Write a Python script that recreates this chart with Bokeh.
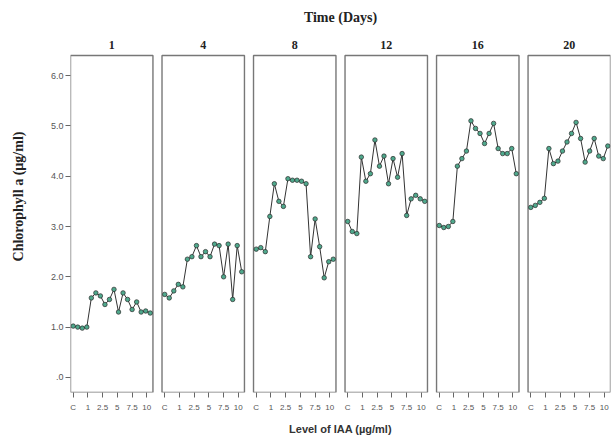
from bokeh.plotting import figure
from bokeh.models import FixedTicker, ColumnDataSource, Label
from bokeh.core.properties import value
from bokeh.embed import file_html
from bokeh.resources import INLINE

days = ["1", "4", "8", "12", "16", "20"]
levels = ["C", "1", "2.5", "5", "7.5", "10"]
y_ticks = [0, 1, 2, 3, 4, 5, 6]
y_tick_labels = [".0", "1.0", "2.0", "3.0", "4.0", "5.0", "6.0"]

day1 = [1.02, 1.00, 0.98, 1.00, 1.58, 1.68, 1.62, 1.45, 1.55, 1.75, 1.30, 1.68, 1.55, 1.35, 1.50, 1.30, 1.32, 1.28]
day4 = [1.65, 1.58, 1.72, 1.85, 1.80, 2.35, 2.40, 2.62, 2.40, 2.50, 2.40, 2.65, 2.62, 2.00, 2.65, 1.55, 2.62, 2.10]
day8 = [2.55, 2.58, 2.50, 3.20, 3.85, 3.50, 3.40, 3.95, 3.92, 3.92, 3.90, 3.85, 2.40, 3.15, 2.60, 1.98, 2.30, 2.35]
day12 = [3.10, 2.90, 2.86, 4.38, 3.90, 4.05, 4.72, 4.20, 4.40, 3.85, 4.35, 3.98, 4.45, 3.22, 3.55, 3.62, 3.55, 3.50]
day16 = [3.02, 2.98, 3.00, 3.10, 4.20, 4.35, 4.50, 5.10, 4.95, 4.85, 4.65, 4.85, 5.05, 4.55, 4.45, 4.45, 4.55, 4.05]
day20 = [3.38, 3.42, 3.48, 3.56, 4.55, 4.25, 4.30, 4.50, 4.68, 4.85, 5.07, 4.75, 4.28, 4.50, 4.75, 4.40, 4.35, 4.60]
series = [day1, day4, day8, day12, day16, day20]

n = len(day1)
period = 20.2
pad = 0.6
y_lo, y_top, y_hi = -0.3, 6.4, 7.493
x_lo, x_hi = -pad, 5 * period + n - 1 + pad

p = figure(width=612, height=437, output_backend="svg", toolbar_location=None,
           x_range=(x_lo, x_hi), y_range=(y_lo, y_hi),
           min_border_left=70, min_border_right=2, min_border_top=0, min_border_bottom=45)
p.outline_line_color = None
p.xgrid.grid_line_color = None
p.ygrid.grid_line_color = None
p.background_fill_color = "white"

# panels
lefts = [k * period - pad for k in range(len(days))]
rights = [k * period + n - 1 + pad for k in range(len(days))]
p.quad(left=lefts, right=rights, bottom=[y_lo] * len(days), top=[y_top] * len(days),
       fill_color=None, line_color="#777", line_width=1.4)

# panel titles
p.text(x=[k * period + (n - 1) / 2 for k in range(len(days))], y=[y_top + 0.2] * len(days),
       text=days, text_align="center", text_baseline="middle",
       text_font=value("Liberation Serif"), text_font_size="12px", text_font_style="bold",
       text_color="#222")

# overall title
p.add_layout(Label(x=(x_lo + x_hi) / 2, y=y_top + 0.755, text="Time (Days)",
                   text_align="center", text_baseline="middle",
                   text_font="Liberation Serif", text_font_size="14px", text_font_style="bold",
                   text_color="#222"))

for k, vals in enumerate(series):
    xs = [k * period + i for i in range(len(vals))]
    src = ColumnDataSource(dict(x=xs, y=vals))
    p.line("x", "y", source=src, line_color="#333", line_width=1.0)
    p.scatter("x", "y", source=src, size=4.5, fill_color="#4fa88c", line_color="#2a2a2a", line_width=0.7)

# x axis ticks
step = (n - 1) / (len(levels) - 1) * 0.955
xt = []
xlab = {}
for k in range(len(days)):
    for j, lv in enumerate(levels):
        pos = round(k * period + j * step, 3)
        xt.append(pos)
        xlab[pos] = lv
p.xaxis.ticker = FixedTicker(ticks=xt)
p.xaxis.major_label_overrides = xlab
p.xaxis.axis_line_color = None
p.xaxis.minor_tick_line_color = None
p.xaxis.major_tick_in = 0
p.xaxis.major_tick_out = 5
p.xaxis.major_tick_line_color = "#666"
p.xaxis.major_label_text_font = "Liberation Sans"
p.xaxis.major_label_text_font_size = "8px"
p.xaxis.major_label_text_color = "#555"
p.xaxis.major_label_standoff = 5
p.xaxis.axis_label = "Level of IAA (\u00b5g/ml)"
p.xaxis.axis_label_text_font = "Liberation Sans"
p.xaxis.axis_label_text_font_size = "11px"
p.xaxis.axis_label_text_font_style = "bold"
p.xaxis.axis_label_text_color = "#333"
p.xaxis.axis_label_standoff = 8

p.yaxis.ticker = FixedTicker(ticks=y_ticks)
p.yaxis.major_label_overrides = {t: l for t, l in zip(y_ticks, y_tick_labels)}
p.yaxis.axis_line_color = None
p.yaxis.minor_tick_line_color = None
p.yaxis.major_tick_in = 0
p.yaxis.major_tick_out = 5
p.yaxis.major_tick_line_color = "#666"
p.yaxis.major_label_text_font = "Liberation Sans"
p.yaxis.major_label_text_font_size = "9px"
p.yaxis.major_label_text_color = "#555"
p.yaxis.major_label_standoff = 2
p.yaxis.axis_label = "Chlorophyll a (\u00b5g/ml)"
p.yaxis.axis_label_text_font = "Liberation Serif"
p.yaxis.axis_label_text_font_size = "14px"
p.yaxis.axis_label_text_font_style = "bold"
p.yaxis.axis_label_text_color = "#222"
p.yaxis.axis_label_standoff = 22

open("out.html", "w").write(file_html(p, INLINE))
